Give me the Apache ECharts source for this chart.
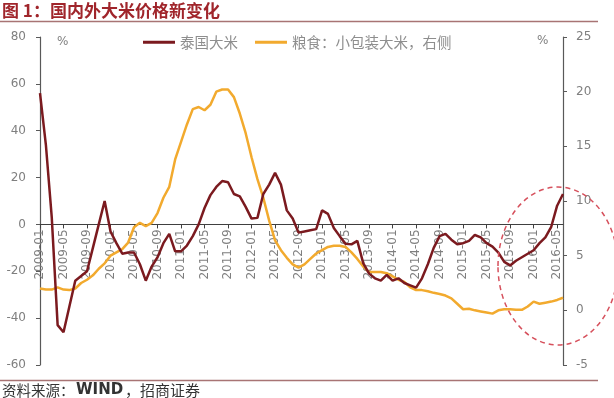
<!DOCTYPE html>
<html>
<head>
<meta charset="utf-8">
<script src="https://cdn.jsdelivr.net/npm/echarts@6/dist/echarts.min.js"></script>
<style>html,body{margin:0;padding:0;background:#fff;}#c{width:614px;height:398px;}</style>
</head>
<body>
<div id="c"></div>
<script>
// Categories: monthly 2009-01 .. 2016-06
var categories = [];
for (var y = 2009; y <= 2016; y++) {
  for (var m = 1; m <= 12; m++) {
    if (y === 2016 && m > 6) break;
    categories.push(y + '-' + (m < 10 ? '0' + m : '' + m));
  }
}
// 泰国大米 (left axis, %)
var thaiRice = [
  56, 34, 3, -43, -46, -35, -24, -22, -20, -10, 0, 10,
  -3, -8, -12.5, -12, -12, -17, -24, -18, -14, -8, -4, -11.5,
  -11.5, -9, -5, 0, 7, 12.5, 16, 18.5, 18, 13, 12, 7.5,
  2.5, 2.8, 13, 17, 22, 17, 6, 2.5, -3.5, -3, -2.5, -2,
  6, 4.5, -1.5, -5, -8.3, -8.5, -7, -16.5, -21, -23, -24, -21.5,
  -24, -23, -25, -26, -27, -23, -17, -10, -5, -4, -6.5, -8.5,
  -8, -7, -4.5, -5.5, -8, -9.5, -12, -16, -17.5, -15.5, -14, -12.5,
  -11, -8, -5.5, -1, 8, 13
];
// 粮食：小包装大米 (right axis, %)
var packRice = [
  2.0, 1.9, 1.9, 2.1, 1.9, 1.85, 2.0, 2.5, 2.8, 3.2, 3.8, 4.3,
  5.0, 5.3, 5.6, 6.2, 7.6, 8.0, 7.7, 8.0, 8.9, 10.3, 11.3, 13.8,
  15.4, 17.0, 18.4, 18.6, 18.3, 18.8, 20.0, 20.2, 20.2, 19.5, 18.0, 16.2,
  14.0, 12.0, 10.3, 8.2, 6.4, 5.5, 4.8, 4.2, 3.9, 4.2, 4.7, 5.2,
  5.5, 5.8, 5.9, 5.9, 5.8, 5.3, 4.7, 4.0, 3.5, 3.5, 3.5, 3.4,
  3.1, 2.8, 2.6, 2.1, 1.85, 1.85, 1.75, 1.6, 1.5, 1.35, 1.1, 0.6,
  0.1, 0.15, 0.0, -0.1, -0.2, -0.3, 0.0, 0.1, 0.1, 0.05, 0.05, 0.35,
  0.8, 0.6, 0.7, 0.8, 0.95, 1.15
];
var seriesNames = ['泰国大米', '粮食：小包装大米，右侧'];
var leftTicks = {min: -60, max: 80, interval: 20};
var rightTicks = {min: -5, max: 25, interval: 5};

var gridTop = 37, gridBottom = 33, chartH = 398;
var plotH = chartH - gridTop - gridBottom;
// place the category axis at value 0 of the left axis
var zeroOffset = -plotH * (0 - leftTicks.min) / (leftTicks.max - leftTicks.min);

var chart = echarts.init(document.getElementById('c'), null, {renderer: 'canvas'});
var numFont = 'DejaVu Sans';
var cjkFont = '"Noto Sans CJK SC", sans-serif';
var grayText = '#7f7f7f';
var axisCol = '#595959';

chart.setOption({
  animation: false,
  backgroundColor: '#fff',
  grid: {left: 40, right: 51, top: gridTop, bottom: gridBottom, containLabel: false, outerBoundsMode: 'none'},
  legend: {
    data: seriesNames,
    left: 143, top: 35, padding: 0,
    icon: 'rect', itemWidth: 32, itemHeight: 3, itemGap: 17,
    textStyle: {color: '#8e8e8e', fontSize: 14.5, fontFamily: cjkFont, fontWeight: 'normal'}
  },
  xAxis: {
    type: 'category',
    data: categories,
    boundaryGap: false,
    position: 'bottom',
    offset: zeroOffset,
    axisLine: {onZero: false, lineStyle: {color: '#404040', width: 1.2}},
    axisTick: {show: true, interval: 3, length: 4, lineStyle: {color: '#404040'}},
    axisLabel: {interval: 3, rotate: 90, margin: 5, color: grayText, fontSize: 12, fontFamily: numFont},
    splitLine: {show: false}
  },
  yAxis: [
    {
      type: 'value', position: 'left',
      min: leftTicks.min, max: leftTicks.max, interval: leftTicks.interval,
      axisLine: {show: true, lineStyle: {color: axisCol, width: 1.2}},
      axisTick: {show: true, length: 4, lineStyle: {color: axisCol}},
      axisLabel: {color: grayText, fontSize: 12, fontFamily: numFont, margin: 14},
      splitLine: {show: false}
    },
    {
      type: 'value', position: 'right',
      min: rightTicks.min, max: rightTicks.max, interval: rightTicks.interval,
      axisLine: {show: true, lineStyle: {color: axisCol, width: 1.2}},
      axisTick: {show: true, length: 4, lineStyle: {color: axisCol}},
      axisLabel: {color: grayText, fontSize: 12, fontFamily: numFont, margin: 13},
      splitLine: {show: false}
    }
  ],
  series: [
    {
      name: seriesNames[0], type: 'line', yAxisIndex: 0, data: thaiRice,
      symbol: 'none', z: 3,
      lineStyle: {color: '#7B1A1F', width: 2.5},
      itemStyle: {color: '#7B1A1F'}
    },
    {
      name: seriesNames[1], type: 'line', yAxisIndex: 1, data: packRice,
      symbol: 'none', z: 2,
      lineStyle: {color: '#F2AA2E', width: 2.5},
      itemStyle: {color: '#F2AA2E'}
    }
  ],
  graphic: [
    {type: 'text', left: 2, top: 2, style: {text: '图 1：国内外大米价格新变化', fill: '#A0252B', font: 'bold 17px ' + cjkFont}},
    {type: 'line', shape: {x1: 0, y1: 21.5, x2: 598, y2: 21.5}, style: {stroke: '#A87474', lineWidth: 1.5}},
    {type: 'line', shape: {x1: 0, y1: 380.5, x2: 598, y2: 380.5}, style: {stroke: '#A87474', lineWidth: 1.5}},
    {type: 'text', x: 2, y: 390, style: {text: '资料来源：', fill: '#333', font: '14.5px ' + cjkFont, textVerticalAlign: 'middle'}},
    {type: 'text', x: 76, y: 390, style: {text: 'WIND', fill: '#333', font: 'bold 15px DejaVu Sans', textVerticalAlign: 'middle'}},
    {type: 'text', x: 125, y: 390, style: {text: '，招商证券', fill: '#333', font: '15px ' + cjkFont, textVerticalAlign: 'middle'}},
    {type: 'text', x: 57, y: 42, style: {text: '%', fill: grayText, font: '12px DejaVu Sans', textVerticalAlign: 'middle'}},
    {type: 'text', x: 537, y: 41, style: {text: '%', fill: grayText, font: '12px DejaVu Sans', textVerticalAlign: 'middle'}},
    {type: 'ellipse', shape: {cx: 558, cy: 266, rx: 60, ry: 79}, z: 10,
     style: {fill: 'none', stroke: '#D6505C', lineWidth: 1.5, lineDash: [5, 4]}}
  ]
});
</script>
</body>
</html>
